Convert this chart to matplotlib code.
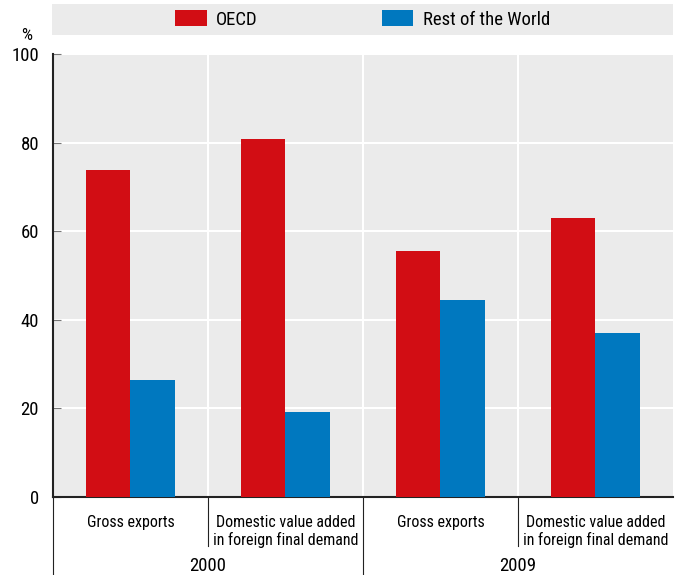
import matplotlib.pyplot as plt
import numpy as np

# --- Data ---
categories = ["Gross exports", "Domestic value added\nin foreign final demand",
              "Gross exports", "Domestic value added\nin foreign final demand"]
years = ["2000", "2009"]
oecd = [73.7, 80.8, 55.5, 63.0]
rest_of_world = [26.3, 19.2, 44.5, 37.0]
yticks = [0, 20, 40, 60, 80, 100]

# --- Style ---
plt.rcParams["font.family"] = ["Roboto Condensed", "DejaVu Sans"]
plt.rcParams["font.size"] = 12

red = "#d20d14"
blue = "#0078bf"
bg = "#ebebeb"
dark = "#222222"

fig = plt.figure(figsize=(6.75, 5.75), dpi=100)
ax = fig.add_axes([0.0785, 0.1357, 0.9185, 0.7704])
ax.set_facecolor(bg)

x = np.arange(len(categories))
w = 0.29
ax.bar(x - w / 2, oecd, w, color=red, label="OECD", zorder=3)
ax.bar(x + w / 2, rest_of_world, w, color=blue, label="Rest of the World", zorder=3)

ax.set_xlim(-0.5, len(categories) - 0.5)
ax.set_ylim(0, 100)
ax.set_yticks(yticks)
ax.set_yticklabels([str(t) for t in yticks], fontsize=13.5)
ax.tick_params(axis="y", direction="in", length=6, color="#777777", pad=10)
ax.set_xticks([])
for y in yticks[1:]:
    ax.axhline(y, color="white", lw=1.5, zorder=1)
for b in np.arange(0.5, len(categories) - 0.5):
    ax.axvline(b, color="white", lw=1.5, zorder=1)

for s in ["top", "right"]:
    ax.spines[s].set_visible(False)
for s in ["left", "bottom"]:
    ax.spines[s].set_color(dark)
    ax.spines[s].set_linewidth(1.5)

fig.text(27 / 675, 1 - 36 / 575, "%", ha="center", va="center", fontsize=12.5)

# --- Category / year labels below axis ---
trans = ax.get_xaxis_transform()
for i, c in enumerate(categories):
    ax.text(i, -0.04, c, transform=trans, ha="center", va="top", fontsize=11.5, linespacing=1.2)
for b in [0.5, 2.5]:
    ax.plot([b, b], [0, -0.11], transform=trans, color=dark, lw=0.8, clip_on=False)
for b in [-0.5, 1.5]:
    ax.plot([b, b], [0, -0.176], transform=trans, color=dark, lw=0.8, clip_on=False)
for j, yr in enumerate(years):
    ax.text(2 * j + 0.5, -0.1565, yr, transform=trans, ha="center", va="center", fontsize=13.5)

# --- Legend ---
leg_ax = fig.add_axes([0.077, 0.939, 0.92, 0.054])
leg_ax.set_facecolor(bg)
leg_ax.set_xticks([])
leg_ax.set_yticks([])
for s in leg_ax.spines.values():
    s.set_visible(False)
handles, labels = ax.get_legend_handles_labels()
leg_ax.legend(handles, labels, loc="center", ncol=2, frameon=False, fontsize=13.5,
              handlelength=1.7, handleheight=0.9, columnspacing=6.6, handletextpad=0.5)

fig.savefig("out.png", dpi=100)
